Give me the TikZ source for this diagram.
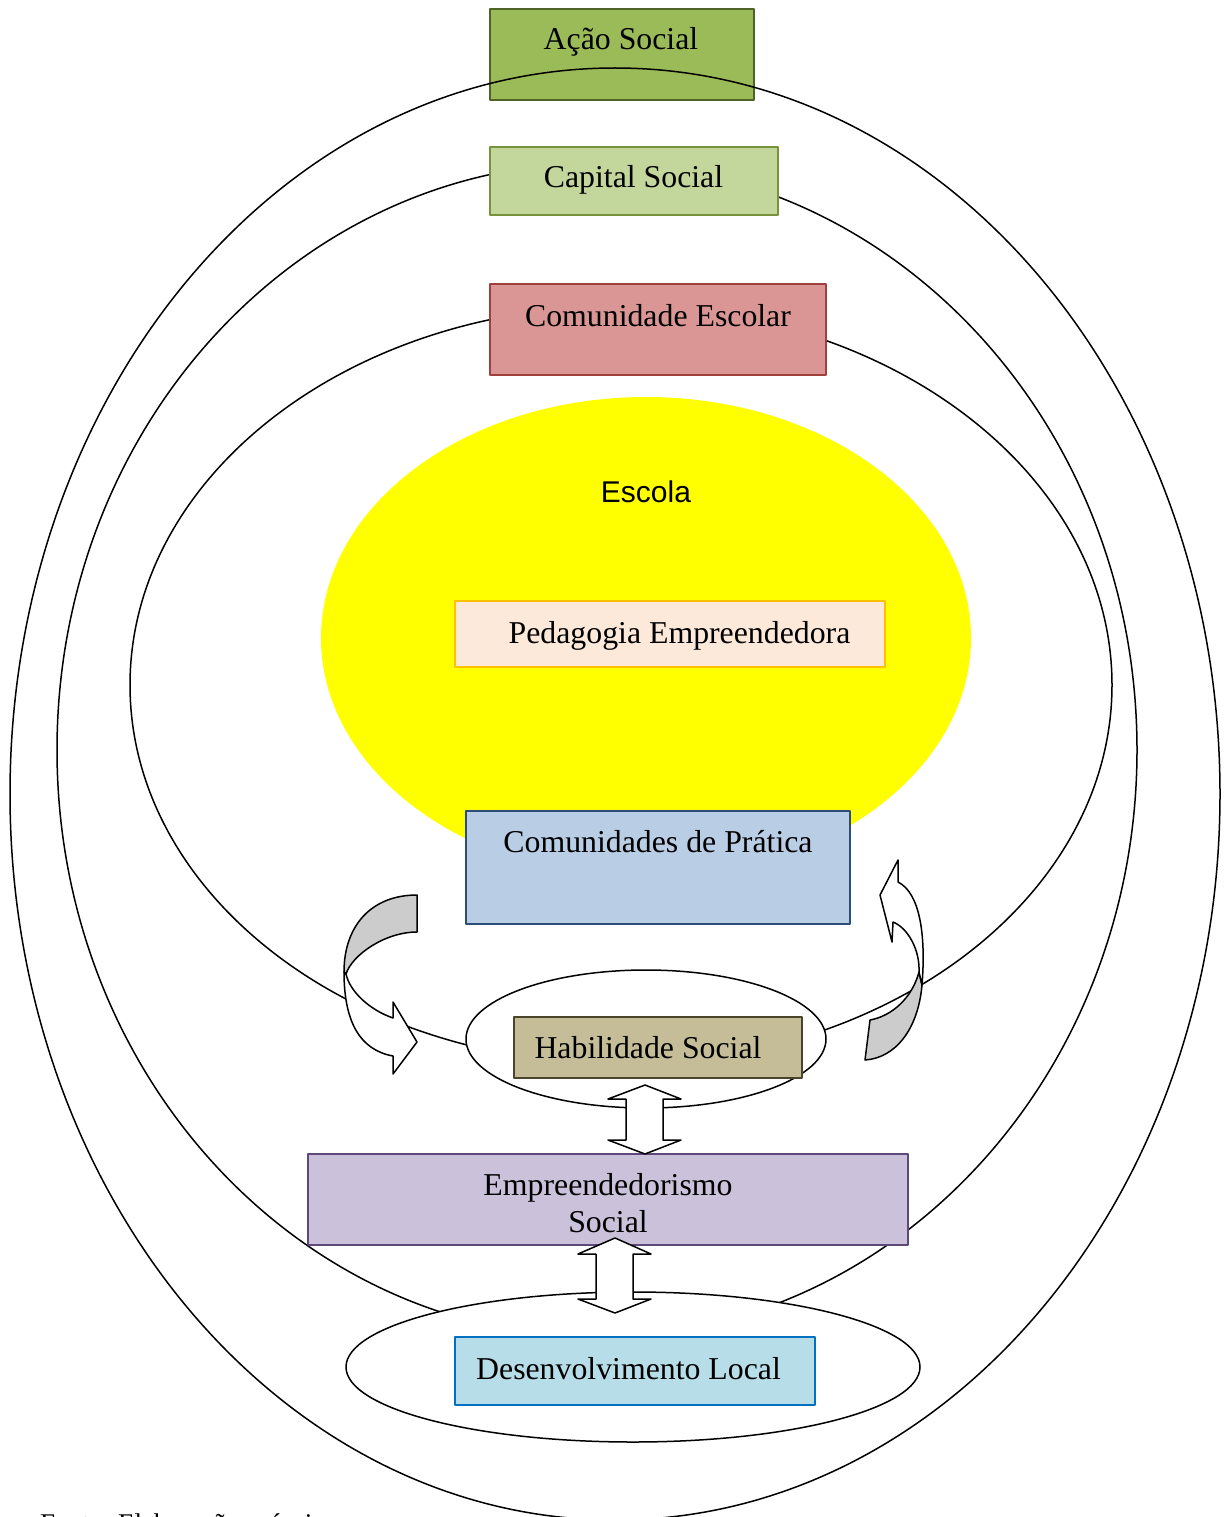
\documentclass[tikz,border=0pt]{standalone}
\usepackage{fontspec}
\setmainfont{Liberation Serif}
\newfontfamily\arialfont{Liberation Sans}
\usetikzlibrary{shapes.geometric}
\definecolor{acaoF}{HTML}{9BBB59}\definecolor{acaoD}{HTML}{4F6228}
\definecolor{capF}{HTML}{C3D69B}\definecolor{capD}{HTML}{77933C}
\definecolor{comF}{HTML}{D99694}\definecolor{comD}{HTML}{A0403E}
\definecolor{pedF}{HTML}{FDE9D9}\definecolor{pedD}{HTML}{FFC000}
\definecolor{praF}{HTML}{B9CDE5}\definecolor{praD}{HTML}{2C4D7A}
\definecolor{habF}{HTML}{C4BD97}\definecolor{habD}{HTML}{4A452A}
\definecolor{empF}{HTML}{CCC1DA}\definecolor{empD}{HTML}{5F497A}
\definecolor{devF}{HTML}{B7DEE8}\definecolor{devD}{HTML}{0070C0}
\definecolor{arrG}{HTML}{CCCCCC}
\definecolor{escY}{RGB}{255,255,0}
\begin{document}
\begin{tikzpicture}[x=1pt,y=-1pt,line join=round,
  boxsh/.style={rectangle,draw,line width=1.4pt,inner sep=0pt},
  ring/.style={ellipse,draw,line width=1.5pt,inner sep=0pt},
  lbl/.style={anchor=base,inner sep=0pt,font=\fontsize{31.8}{38}\selectfont},
  blk/.style={draw,line width=1.5pt,fill=white}]
\useasboundingbox (0,0) rectangle (1223,1517);
\fill[white] (0,0) rectangle (1223,1517);
% Acao Social box and outer ring
\node[boxsh,draw=acaoD,fill=acaoF,minimum width=264pt,minimum height=91pt] (acao) at (622,54.5) {};
\node[lbl] (tacao) at (621,49.5) {Ação Social};
\node[ring,minimum width=1210pt,minimum height=1452pt] (ring1) at (615,794) {};
% Capital social ring and box
\node[ring,minimum width=1080pt,minimum height=1174pt] (ring2) at (597,750) {};
\node[boxsh,draw=capD,fill=capF,minimum width=288pt,minimum height=68pt] (cap) at (634,181) {};
\node[lbl] (tcap) at (633.5,188) {Capital Social};
% Comunidade escolar ring and box
\node[ring,minimum width=982pt,minimum height=758pt] (ring3) at (621,685) {};
\node[boxsh,draw=comD,fill=comF,minimum width=336pt,minimum height=91pt] (com) at (658,329.5) {};
\node[lbl] (tcom) at (658,326) {Comunidade Escolar};
% Escola
\node[ellipse,fill=escY,inner sep=0pt,minimum width=650pt,minimum height=482pt] (escola) at (646,638) {};
\node[anchor=base,inner sep=0pt,font=\arialfont\fontsize{30}{36}\selectfont] (tesc) at (646,502) {Escola};
\node[boxsh,draw=pedD,fill=pedF,minimum width=430pt,minimum height=66pt] (ped) at (670,634) {};
\node[lbl] (tped) at (679.5,643) {Pedagogia Empreendedora};
\node[boxsh,draw=praD,fill=praF,minimum width=384pt,minimum height=113pt] (pra) at (658,867.5) {};
\node[lbl] (tpra) at (658,852) {Comunidades de Prática};
% left curved arrow
\fill[arrG,draw=black,line width=1.5pt] (417,895) .. controls (372,895) and (344,925) .. (344,972)
  -- (346,974) .. controls (352,955) and (385,932) .. (417,932) -- cycle;
\draw[blk] (344,972) .. controls (344,1022) and (360,1050) .. (393,1056) -- (393,1074) -- (417,1042)
  -- (393,1002) -- (393,1018) .. controls (370,1010) and (350,992) .. (346,974) -- cycle;
% right curved arrow
\fill[arrG,draw=black,line width=1.5pt] (865,1060) -- (870,1020) .. controls (892,1016) and (912,998) .. (919,972)
  -- (922,985) .. controls (918,1030) and (895,1058) .. (865,1060) -- cycle;
\draw[blk] (922,985) .. controls (926,935) and (920,893) .. (898,882) -- (898,860) -- (880,895)
  -- (892,942) -- (893,922) .. controls (908,928) and (920,950) .. (919,972) -- cycle;
% Habilidade social
\node[ring,fill=white,minimum width=360pt,minimum height=138pt] (habring) at (646,1039) {};
\node[boxsh,draw=habD,fill=habF,minimum width=288pt,minimum height=61pt] (hab) at (658,1047.5) {};
\node[lbl] (thab) at (648,1058) {Habilidade Social};
% Empreendedorismo social
\node[boxsh,draw=empD,fill=empF,minimum width=600pt,minimum height=91pt] (emp) at (608,1199.5) {};
\node[lbl] (temp1) at (608,1195) {Empreendedorismo};
\node[lbl] (temp2) at (608,1232) {Social};
% Desenvolvimento local
\node[ring,fill=white,minimum width=574pt,minimum height=150pt] (devring) at (633,1367) {};
\node[boxsh,draw=devD,fill=devF,minimum width=360pt,minimum height=68pt] (dev) at (635,1371) {};
\node[lbl] (tdev) at (628.5,1379) {Desenvolvimento Local};
% double arrows
\draw[blk] (645,1085) -- (681,1099) -- (663,1099) -- (663,1140) -- (681,1140) -- (645,1154)
  -- (608,1140) -- (626,1140) -- (626,1099) -- (608,1099) -- cycle;
\draw[blk] (615,1238) -- (651,1254) -- (633,1254) -- (633,1299) -- (651,1299) -- (615,1313)
  -- (578,1299) -- (596,1299) -- (596,1254) -- (578,1254) -- cycle;
% source line (cut off by the page edge, as in the reference)
\node[anchor=base west,inner sep=0pt,font=\fontsize{27}{32}\selectfont] (fonte) at (40,1532) {Fonte: Elaboração própria};
\end{tikzpicture}
\end{document}
